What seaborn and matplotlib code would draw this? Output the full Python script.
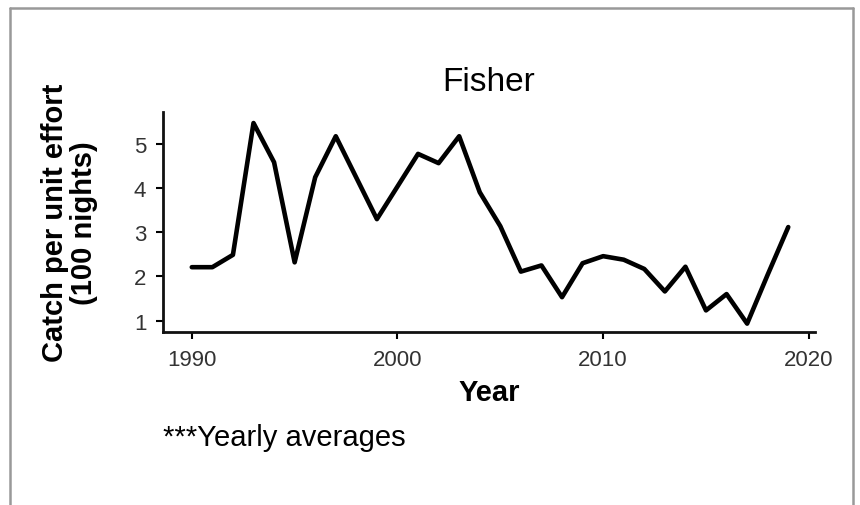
import pandas as pd
import seaborn as sns
import matplotlib
matplotlib.use("Agg")
import matplotlib.pyplot as plt
from matplotlib.lines import Line2D

# Valores (médias anuais)
years = list(range(1990, 2020))
cpue = [2.21, 2.21, 2.49, 5.48, 4.59, 2.32, 4.25, 5.18, 4.24, 3.30,
        4.04, 4.78, 4.57, 5.18, 3.91, 3.14, 2.11, 2.25, 1.53, 2.30,
        2.46, 2.38, 2.17, 1.66, 2.22, 1.23, 1.60, 0.93, 2.04, 3.12]
x_ticks = [1990, 2000, 2010, 2020]
y_ticks = [1, 2, 3, 4, 5]

df = pd.DataFrame({"year": years, "cpue": cpue})

sns.set_style("ticks")
plt.rcParams["font.family"] = ["Liberation Sans", "DejaVu Sans"]
plt.rcParams["text.color"] = "black"
plt.rcParams["axes.labelcolor"] = "black"

W, H = 860, 506
fig = plt.figure(figsize=(W / 100, H / 100), dpi=100)
ax = fig.add_axes([163 / W, 1 - 333 / H, (815 - 163) / W, (333 - 113) / H])

sns.lineplot(data=df, x="year", y="cpue", color="black", linewidth=3.3, ax=ax)

ax.set_xlim(1988.6, 2020.3)
ax.set_ylim(0.74, 5.73)
ax.set_xticks(x_ticks)
ax.set_yticks(y_ticks)
ax.tick_params(axis="both", labelsize=16, colors="black", labelcolor="#333333",
               width=1.5, length=5, pad=7)
for side in ["left", "bottom"]:
    ax.spines[side].set_linewidth(2)
    ax.spines[side].set_color("#111111")
sns.despine(ax=ax)

ax.set_title("Fisher", fontsize=24, pad=16, color="black")
ax.set_xlabel("Year", fontsize=21, fontweight="bold", labelpad=6)
ax.set_ylabel("Catch per unit effort\n(100 nights)", fontsize=21,
              fontweight="bold", labelpad=26, linespacing=1.05)

fig.text(163 / W, 1 - 446 / H, "***Yearly averages", fontsize=21,
         ha="left", va="baseline")

# moldura cinza
c = "#999999"
fig.add_artist(Line2D([10 / W, 10 / W], [0, 1 - 9 / H], color=c, lw=1.8))
fig.add_artist(Line2D([853 / W, 853 / W], [0, 1 - 9 / H], color=c, lw=1.8))
fig.add_artist(Line2D([10 / W, 853 / W], [1 - 9 / H, 1 - 9 / H], color=c, lw=1.8))

fig.savefig("out.png", dpi=100, facecolor="white")
